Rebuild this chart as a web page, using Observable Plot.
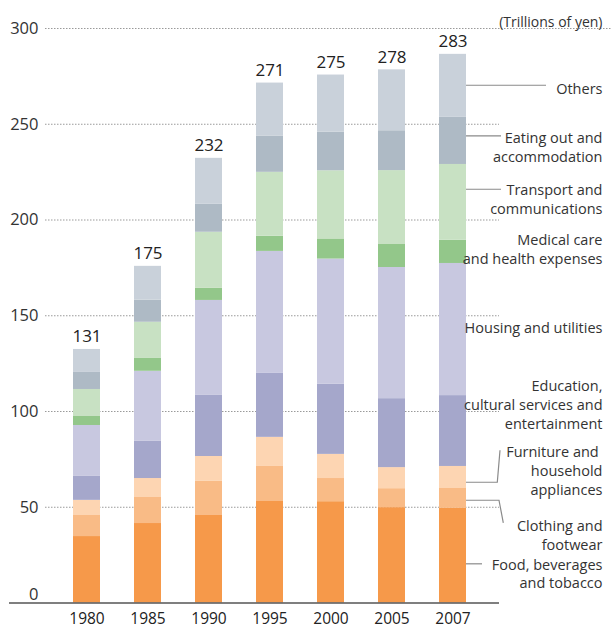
<!DOCTYPE html>
<html><head><meta charset="utf-8">
<script src="https://cdn.jsdelivr.net/npm/d3@7"></script>
<script src="https://cdn.jsdelivr.net/npm/@observablehq/plot@0.6"></script>
<style>
body{margin:0;background:#fff;}
#chart svg{display:block;}
</style>
</head><body><div id="chart"></div>
<script>
// ---- data ----
const years = ["1980","1985","1990","1995","2000","2005","2007"];
const totals = [131,175,232,271,275,278,283];
const categories = [
  "Food, beverages and tobacco",
  "Clothing and footwear",
  "Furniture and household appliances",
  "Education, cultural services and entertainment",
  "Housing and utilities",
  "Medical care and health expenses",
  "Transport and communications",
  "Eating out and accommodation",
  "Others"
];
const food      = [34.7, 41.5, 45.7, 53.0, 52.9, 49.8, 49.4];
const clothing  = [11.0, 13.6, 17.8, 18.3, 12.1,  9.9, 10.4];
const furniture = [ 7.9,  9.9, 13.0, 15.2, 12.6, 11.0, 11.5];
const education = [12.5, 19.4, 31.9, 33.4, 36.6, 36.0, 37.0];
const housing   = [26.6, 36.6, 49.6, 63.7, 65.4, 68.5, 69.0];
const medical   = [ 4.7,  6.7,  6.3,  7.9, 10.5, 12.0, 12.1];
const transport = [14.1, 18.9, 29.3, 33.4, 35.6, 38.6, 39.6];
const eating    = [ 8.9, 11.5, 14.6, 18.8, 20.2, 20.8, 24.6];
const others    = [12.0, 17.7, 24.0, 27.8, 29.8, 31.8, 32.9];
const yTicks = [0, 50, 100, 150, 200, 250, 300];
const labelTexts = [
  "Food, beverages\nand tobacco",
  "Clothing and\nfootwear",
  "Furniture and\u00a0\nhousehold\nappliances",
  "Education,\ncultural services and\nentertainment",
  "Housing and utilities",
  "Medical care\nand health expenses",
  "Transport and\ncommunications",
  "Eating out and\naccommodation",
  "Others"
];
const unitLabel = "(Trillions of yen)";

// ---- styles / layout ----
const colors = ["#f6994a","#f9bb86","#fdd5b2","#a5a7cb","#c8c8e0","#93c78a","#c8e1c3","#aebac5","#c9d1da"];
const labelY = [15.7, 36.0, 69.4, 103.8, 144.2, 185.2, 211.3, 238.4, 269.1];
// leader polylines: [offset from right edge of last bar (px), y value]
const leaders = [
  [[0,20.2],[16,20.2]],
  [[0,53.4],[33,53.4],[37.3,41.6]],
  [[0,62.8],[31.3,62.8],[34,79.5]],
  [[0,215.8],[35,215.8]],
  [[0,243.7],[35,243.7]],
  [[0,270.1],[80,270.1]]
];

const series = [food, clothing, furniture, education, housing, medical, transport, eating, others];
const rows = [];
years.forEach((yr, i) => categories.forEach((c, j) => rows.push({year: yr, category: c, value: series[j][i]})));
const tops = years.map((yr, i) => ({year: yr, total: totals[i], top: d3.sum(series, s => s[i])}));
const labels = labelTexts.map((t, i) => ({text: t, y: labelY[i]}));

const plot = Plot.plot({
  width: 611, height: 630,
  marginTop: 28, marginBottom: 27.5, marginLeft: 45, marginRight: 112,
  style: {fontFamily: "'Open Sans', sans-serif", background: "#fff", color: "#333", overflow: "visible"},
  x: {domain: years, paddingInner: 0.561, paddingOuter: 0.4716, align: 0.4655, axis: null},
  y: {domain: [0, 300], axis: null},
  color: {domain: categories, range: colors},
  marks: [
    Plot.ruleY(yTicks.filter(t => t > 0 && t < 300), {stroke: "#9a9a9a", strokeDasharray: "1.5,1.5", strokeWidth: 1}),
    Plot.ruleY([300], {stroke: "#9a9a9a", strokeDasharray: "1.5,1.5", strokeWidth: 1, insetRight: -112}),
    Plot.barY(rows, {x: "year", y: "value", fill: "category"}),
    Plot.ruleY([0], {stroke: "#555", strokeWidth: 1.6, insetLeft: -36}),
    Plot.axisY(yTicks.filter(t => t > 0), {tickSize: 0, tickPadding: 7, fontSize: 16.5, label: null, fill: "#333"}),
    Plot.axisY([0], {tickSize: 0, tickPadding: 7, fontSize: 16.5, label: null, dy: -8, fill: "#333"}),
    Plot.axisX({tickSize: 0, tickPadding: 10, fontSize: 15.5, label: null, fill: "#222"}),
    Plot.text(tops, {x: "year", y: "top", text: d => String(d.total), dy: -7, lineAnchor: "bottom", fontSize: 17, fontWeight: 500, fill: "#222"}),
    Plot.text(labels, {frameAnchor: "right", y: "y", text: "text", dx: 103, textAnchor: "end", fontSize: 14.5, lineHeight: 1.3, fill: "#333"}),
    Plot.text([unitLabel], {frameAnchor: "top-right", dx: 103, dy: -11, textAnchor: "end", fontSize: 14, fill: "#333"})
  ]
});

// leader lines, positioned through the plot's scales
const xs = plot.scale("x"), ys = plot.scale("y");
const barRight = xs.apply(years[years.length - 1]) + xs.bandwidth;
d3.select(plot).append("g")
  .attr("fill", "none").attr("stroke", "#8a8a8a").attr("stroke-width", 1.2)
  .selectAll("path").data(leaders).join("path")
  .attr("d", pts => d3.line()(pts.map(([dx, v]) => [barRight + dx, ys.apply(v)])));

document.getElementById("chart").appendChild(plot);
</script>
</body></html>
